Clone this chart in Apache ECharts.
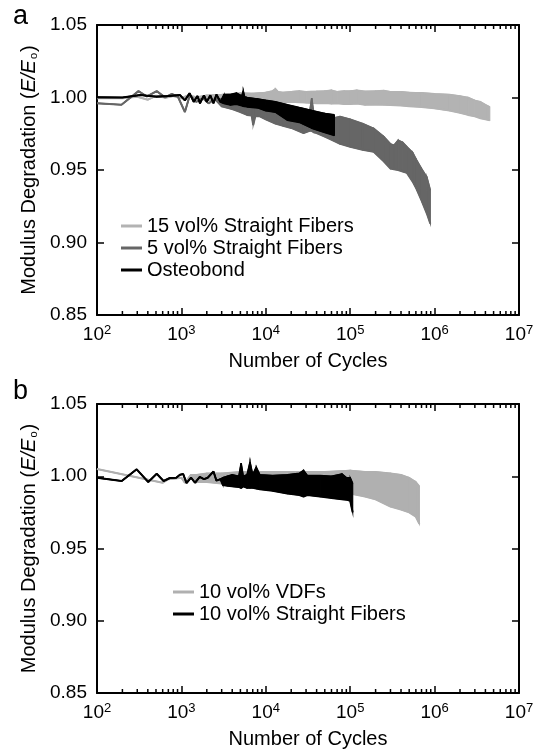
<!DOCTYPE html>
<html><head><meta charset="utf-8">
<script src="https://cdn.jsdelivr.net/npm/echarts@6/dist/echarts.min.js"></script>
<style>html,body{margin:0;padding:0;background:#fff}#c{width:543px;height:750px}</style>
</head><body><div id="c"></div><script>
// ---------- Panel a ----------
const namesA = ['15 vol% Straight Fibers', '5 vol% Straight Fibers', 'Osteobond'];
const colorsA = ['#b3b3b3', '#666666', '#000000'];

const c15 = [100,200,300,400,500,650,800,1000,1200,1500,2000,3000,4000,5000,7000,10000,12000,13000,14000,16000,20000,25000,30000,40000,50000,60000,70000,85000,100000,120000,150000,200000,250000,300000,400000,500000,700000,1000000,1500000,2000000,2500000,3000000,3500000,4000000,4500000];
const lo15 = [0.9995,0.9995,1.0005,0.9985,1.0012,0.9998,1.001,0.9995,1.0015,1.0002,0.9985,0.998,0.9975,0.997,0.9975,0.997,0.9972,0.997,0.997,0.9965,0.997,0.9968,0.9965,0.996,0.9962,0.9958,0.996,0.9955,0.9955,0.9958,0.995,0.9952,0.995,0.9948,0.9945,0.994,0.9935,0.9925,0.991,0.9895,0.988,0.987,0.9857,0.985,0.9843];
const hi15 = [0.9995,0.9995,1.0005,0.9985,1.0012,0.9998,1.001,0.9995,1.0015,1.0002,1.0015,1.002,1.0025,1.003,1.0028,1.0035,1.0045,1.006,1.004,1.0035,1.004,1.0045,1.004,1.0042,1.0045,1.005,1.004,1.0045,1.0045,1.005,1.0042,1.0045,1.0048,1.004,1.004,1.0035,1.0032,1.0025,1.002,1.001,1.0,0.998,0.997,0.995,0.9935];

const c5 = [100,195,310,390,510,640,770,910,1100,1260,1500,1800,2100,2500,3000,4000,5000,6000,6800,7100,7500,8500,10000,13000,16000,20000,28000,33000,35000,37000,40000,50000,65000,76000,100000,140000,190000,250000,300000,330000,370000,420000,470000,550000,610000,700000,810000,890000];
const lo5 = [0.996,0.995,1.0044,1.0007,1.0044,1.0001,1.0024,1.0005,0.990,1.0017,0.997,0.9995,0.996,0.999,0.994,0.992,0.990,0.988,0.9875,0.981,0.987,0.987,0.985,0.982,0.9805,0.979,0.9755,0.977,0.977,0.976,0.9755,0.973,0.970,0.968,0.966,0.964,0.9626,0.956,0.951,0.9505,0.950,0.949,0.948,0.942,0.937,0.929,0.920,0.913];
const hi5 = [0.996,0.995,1.0044,1.0007,1.0044,1.0001,1.0024,1.0005,0.990,1.0017,0.997,0.9995,0.996,0.999,0.999,0.998,0.997,0.9965,0.996,0.996,0.996,0.995,0.994,0.993,0.992,0.991,0.990,0.9895,0.9995,0.989,0.988,0.987,0.986,0.9868,0.985,0.982,0.9787,0.973,0.968,0.967,0.9705,0.969,0.966,0.962,0.957,0.951,0.945,0.936];

const cOst = [100,200,325,500,700,960,1100,1250,1400,1550,1660,1850,2000,2200,2400,2600,2900,3200,3800,4500,5200,5400,5600,6000,8000,10000,13000,18000,25000,35000,50000,65000];
const loOst = [1.0001,1.0,1.0017,1.0006,1.001,1.0017,0.998,1.0029,0.997,1.001,0.996,1.0015,0.997,1.0015,0.996,1.002,0.997,0.996,0.995,0.9955,0.9945,0.994,0.994,0.9937,0.993,0.991,0.990,0.9845,0.983,0.979,0.976,0.974];
const hiOst = [1.0001,1.0,1.0017,1.0006,1.001,1.0017,0.998,1.0029,0.997,1.001,0.996,1.0015,0.997,1.0015,0.996,1.002,0.997,1.002,1.002,1.003,1.001,1.0045,1.0005,1.000,0.999,0.998,0.997,0.995,0.993,0.991,0.989,0.988];

// ---------- Panel b ----------
const namesB = ['10 vol% VDFs', '10 vol% Straight Fibers'];
const colorsB = ['#b0b0b0', '#000000'];

const cVDF = [100,600,700,850,1000,1100,1300,1500,2000,3000,5000,7000,10000,20000,50000,100000,150000,200000,300000,400000,500000,600000,660000];
const loVDF = [1.005,0.9955,0.998,0.9985,0.999,0.9955,1.001,0.996,0.996,0.995,0.994,0.994,0.993,0.992,0.991,0.988,0.986,0.984,0.979,0.977,0.975,0.972,0.967];
const hiVDF = [1.005,0.9955,0.998,0.9985,0.999,0.9955,1.001,1.001,1.002,1.002,1.003,1.003,1.003,1.003,1.003,1.004,1.003,1.003,1.002,1.001,0.999,0.996,0.993];

const cSF = [100,196,295,405,510,615,730,870,960,1050,1150,1300,1450,1650,1850,2050,2400,2600,2900,3100,3500,4000,4800,5100,5400,6000,6500,7000,7700,8500,12000,18000,25000,28000,31000,44000,60000,80000,90000,100000,107000];
const loSF = [0.999,0.9967,1.0048,0.996,1.0017,0.9967,0.9988,0.999,1.001,1.0015,0.9953,0.999,0.9955,0.9995,0.998,0.999,1.0033,0.997,0.998,0.994,0.9935,0.993,0.9925,0.992,0.993,0.992,0.992,0.992,0.9915,0.991,0.990,0.988,0.987,0.986,0.987,0.986,0.985,0.984,0.9838,0.983,0.975];
const hiSF = [0.999,0.9967,1.0048,0.996,1.0017,0.9967,0.9988,0.999,1.001,1.0015,0.9953,0.999,0.9955,0.9995,0.998,0.999,1.0033,0.997,0.998,0.999,1.0,1.001,1.0,1.009,1.0,1.001,1.0097,1.001,1.0063,1.001,1.0005,1.001,1.002,1.004,1.0005,1.0005,1.000,1.0015,0.999,0.999,0.995];

// ---------- Axes ticks ----------
const yRange = [0.85, 1.05];
const yStep = 0.05;
const xRange = [100, 10000000];
const minorTickValues = [200,300,400,500,600,700,800,900,
  2000,3000,4000,5000,6000,7000,8000,9000,
  20000,30000,40000,50000,60000,70000,80000,90000,
  200000,300000,400000,500000,600000,700000,800000,900000,
  2000000,3000000,4000000,5000000,6000000,7000000,8000000,9000000];

const FONT = 'Liberation Sans, Arial, Helvetica, sans-serif';

function bandSeries(name, xs, lo, hi, color, gi, z) {
  const ax = { xAxisIndex: gi * 2, yAxisIndex: gi * 2, z: z };
  return [
    Object.assign({ name: name, type: 'line', data: xs.map((x, i) => [x, lo[i]]), symbol: 'none', showSymbol: false,
      lineStyle: { color: color, width: 2 }, itemStyle: { color: color } }, ax),
    Object.assign({ name: name, type: 'custom', data: xs.map((x, i) => [x, lo[i], hi[i]]), silent: true,
      encode: { x: 0, y: [1, 2] }, itemStyle: { color: color },
      renderItem: function (params, api) {
        const i = params.dataIndexInside;
        if (i >= params.dataInsideLength - 1) return null;
        const x0 = api.value(0, i), x1 = api.value(0, i + 1);
        const a = api.coord([x0, api.value(2, i)]);
        const b = api.coord([x1, api.value(2, i + 1)]);
        const c = api.coord([x1, api.value(1, i + 1)]);
        const d = api.coord([x0, api.value(1, i)]);
        return { type: 'polygon', shape: { points: [a, b, c, d] },
          style: { fill: color, stroke: color, lineWidth: 1.2 } };
      } }, ax),
    Object.assign({ name: name, type: 'line', data: xs.map((x, i) => [x, hi[i]]), symbol: 'none', showSymbol: false,
      lineStyle: { color: color, width: 1.6 }, itemStyle: { color: color } }, ax)
  ];
}

function minorTickSeries(gi) {
  return {
    type: 'custom', xAxisIndex: gi * 2, yAxisIndex: gi * 2, silent: true, clip: false, z: 10,
    data: minorTickValues.map(v => [v, yRange[0]]),
    renderItem: function (params, api) {
      const x = api.value(0);
      const pb = api.coord([x, yRange[0]]);
      const pt = api.coord([x, yRange[1]]);
      const st = { stroke: '#000', lineWidth: 1.5 };
      return { type: 'group', children: [
        { type: 'line', shape: { x1: pb[0], y1: pb[1], x2: pb[0], y2: pb[1] - 4 }, style: st },
        { type: 'line', shape: { x1: pt[0], y1: pt[1], x2: pt[0], y2: pt[1] + 4 }, style: st }
      ]};
    }
  };
}

function xAxes(gi) {
  const base = { type: 'log', logBase: 10, min: xRange[0], max: xRange[1], gridIndex: gi,
    splitLine: { show: false }, axisLine: { show: true, onZero: false, lineStyle: { color: '#000', width: 2 } },
    axisTick: { show: true, inside: true, length: 7, lineStyle: { color: '#000', width: 1.5 } } };
  return [
    Object.assign({}, base, { position: 'bottom', name: 'Number of Cycles', nameLocation: 'middle', nameGap: 36,
      nameTextStyle: { fontSize: 20, fontFamily: FONT, color: '#000' },
      axisLabel: { show: true, margin: 9, color: '#000',
        formatter: v => '{b|10}{s|' + Math.round(Math.log10(v)) + '}',
        rich: { b: { fontSize: 19, fontFamily: FONT, color: '#000', lineHeight: 22 },
                s: { fontSize: 13, fontFamily: FONT, color: '#000', verticalAlign: 'top', lineHeight: 13 } } } }),
    Object.assign({}, base, { position: 'top', axisLabel: { show: false } })
  ];
}

function yAxes(gi) {
  const base = { type: 'value', min: yRange[0], max: yRange[1], interval: yStep, gridIndex: gi,
    splitLine: { show: false }, axisLine: { show: true, onZero: false, lineStyle: { color: '#000', width: 2 } },
    axisTick: { show: true, inside: true, length: 7, lineStyle: { color: '#000', width: 1.5 } } };
  return [
    Object.assign({}, base, { position: 'left',
      name: '{n|Modulus Degradation (}{i|E/E}{s|o}{n|)}', nameLocation: 'middle', nameGap: 57, nameRotate: 90,
      nameTextStyle: { fontSize: 20, fontFamily: FONT, color: '#000',
        rich: { n: { fontSize: 20, fontFamily: FONT, color: '#000' },
                i: { fontSize: 20, fontFamily: FONT, color: '#000', fontStyle: 'italic' },
                s: { fontSize: 11, fontFamily: FONT, color: '#000', verticalAlign: 'bottom', padding: [0, 1, 0, 1] } } },
      axisLabel: { show: true, margin: 10, fontSize: 19, fontFamily: FONT, color: '#000', formatter: v => v.toFixed(2) } }),
    Object.assign({}, base, { position: 'right', axisLabel: { show: false } })
  ];
}

const chart = echarts.init(document.getElementById('c'), null, { renderer: 'canvas' });
const series = [].concat(
  bandSeries(namesA[0], c15, lo15, hi15, colorsA[0], 0, 2),
  bandSeries(namesA[1], c5, lo5, hi5, colorsA[1], 0, 3),
  bandSeries(namesA[2], cOst, loOst, hiOst, colorsA[2], 0, 4),
  bandSeries(namesB[0], cVDF, loVDF, hiVDF, colorsB[0], 1, 2),
  bandSeries(namesB[1], cSF, loSF, hiSF, colorsB[1], 1, 3),
  [minorTickSeries(0), minorTickSeries(1)]
);

chart.setOption({
  animation: false,
  backgroundColor: '#fff',
  textStyle: { fontFamily: FONT },
  grid: [
    { left: 97, right: 24, top: 25, height: 290 },
    { left: 97, right: 24, top: 404, height: 289 }
  ],
  xAxis: xAxes(0).concat(xAxes(1)),
  yAxis: yAxes(0).concat(yAxes(1)),
  legend: [
    { data: namesA, orient: 'vertical', left: 121, top: 216, padding: 0, itemWidth: 21, itemHeight: 3, itemGap: 2, icon: 'rect', z: 20,
      textStyle: { fontSize: 20, fontFamily: FONT, color: '#000' }, selectedMode: false },
    { data: namesB, orient: 'vertical', left: 173, top: 582, padding: 0, itemWidth: 21, itemHeight: 3, itemGap: 2, icon: 'rect', z: 20,
      textStyle: { fontSize: 20, fontFamily: FONT, color: '#000' }, selectedMode: false }
  ],
  graphic: [
    { type: 'text', x: 13, y: 17, style: { text: 'a', font: '27px ' + FONT, fill: '#000', verticalAlign: 'middle' } },
    { type: 'text', x: 13, y: 392, style: { text: 'b', font: '27px ' + FONT, fill: '#000', verticalAlign: 'middle' } }
  ],
  series: series
});
</script></body></html>
